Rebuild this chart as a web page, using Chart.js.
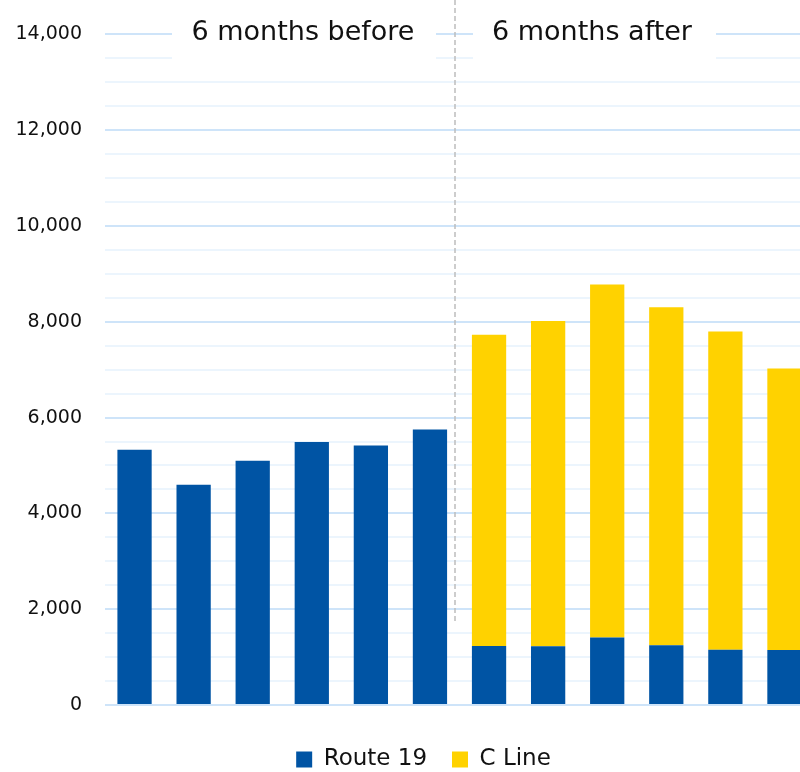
<!DOCTYPE html>
<html>
<head>
<meta charset="utf-8">
<script src="https://cdn.jsdelivr.net/npm/chart.js@4/dist/chart.umd.min.js"></script>
<style>
  html, body { margin: 0; padding: 0; background: #fff; overflow: hidden; }
  #wrap { width: 814px; height: 781px; }
</style>
</head>
<body>
<div id="wrap"><canvas id="chart"></canvas></div>
<script>
// Monthly riders, 6 months before and after the C Line opened
const months = ['B1', 'B2', 'B3', 'B4', 'B5', 'B6', 'A1', 'A2', 'A3', 'A4', 'A5', 'A6'];
const route19 = [5330, 4600, 5100, 5490, 5420, 5750, 1230, 1225, 1410, 1245, 1155, 1150];
const cLine = [null, null, null, null, null, null, 6500, 6790, 7370, 7060, 6640, 5875];
const periodLabels = ['6 months before', '6 months after'];

const FONT = '"DejaVu Sans", sans-serif';
const BLUE = '#0054A4';
const YELLOW = '#FFD200';
const GRID_MAJOR = 'rgb(206,228,249)';
const GRID_MINOR = 'rgb(236,245,253)';

// divider + period headings
const periodPlugin = {
    id: 'periods',
    afterLayout(chart) {
        // legend sits a little right of the canvas centre
        chart.legend.left += 33;
    },
    afterDraw(chart) {
        const c = chart.ctx;
        const y = chart.scales.y.getPixelForValue(14000);

        c.save();
        c.strokeStyle = '#bdbdbd';
        c.lineWidth = 1.5;
        c.setLineDash([5, 3]);
        c.beginPath();
        c.moveTo(455, 0);
        c.lineTo(455, 622);
        c.stroke();
        c.restore();

        c.save();
        c.font = '27px ' + FONT;
        c.textAlign = 'center';
        c.textBaseline = 'middle';
        [[303, 172, 436], [592, 473, 716]].forEach(([cx, x0, x1], i) => {
            c.fillStyle = '#fff';
            c.fillRect(x0, y - 30, x1 - x0, 57);
            c.fillStyle = '#111';
            c.fillText(periodLabels[i], cx, y - 1);
        });
        c.restore();
    }
};

new Chart(document.getElementById('chart'), {
    type: 'bar',
    data: {
        labels: months,
        datasets: [
            { label: 'Route 19', data: route19, backgroundColor: BLUE },
            { label: 'C Line', data: cLine, backgroundColor: YELLOW }
        ]
    },
    options: {
        responsive: true,
        maintainAspectRatio: false,
        animation: false,
        datasets: { bar: { categoryPercentage: 1, barPercentage: 0.58 } },
        layout: { padding: { top: 33, left: 0, right: 0, bottom: 0 } },
        plugins: {
            tooltip: { enabled: false },
            legend: {
                position: 'bottom',
                labels: {
                    boxWidth: 16, boxHeight: 16, padding: 25,
                    color: '#111', font: { family: FONT, size: 23 }
                }
            }
        },
        scales: {
            x: {
                stacked: true,
                grid: { display: false },
                border: { display: false },
                ticks: { display: false },
                afterFit(scale) { scale.height = 18; }
            },
            y: {
                stacked: true,
                min: 0, max: 14000,
                border: { display: false },
                afterFit(scale) { scale.width = 105; },
                grid: {
                    drawTicks: false,
                    lineWidth: 2,
                    color: ctx => ctx.tick && ctx.tick.value % 2000 === 0 ? GRID_MAJOR : GRID_MINOR
                },
                ticks: {
                    stepSize: 500,
                    autoSkip: false,
                    padding: 23,
                    color: '#111',
                    font: { family: FONT, size: 19 },
                    callback: v => v % 2000 === 0 ? v.toLocaleString('en-US') : ''
                }
            }
        }
    },
    plugins: [periodPlugin]
});
</script>
</body>
</html>
